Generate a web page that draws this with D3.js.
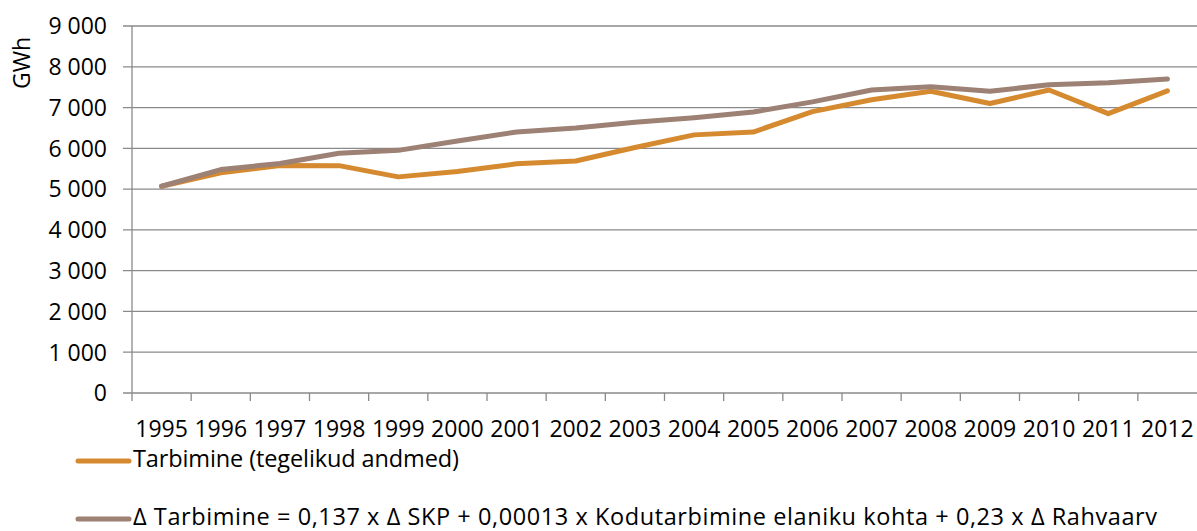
<!DOCTYPE html>
<html>
<head>
<meta charset="utf-8">
<script src="https://cdn.jsdelivr.net/npm/d3@7"></script>
<style>
  html, body { margin: 0; padding: 0; background: #fff; }
  svg { display: block; }
  text { font-family: "Open Sans", "Noto Sans", sans-serif; fill: #000; }
</style>
</head>
<body>
<svg id="chart" width="1197" height="531"></svg>
<script>
// Electricity consumption, GWh
const years = ["1995","1996","1997","1998","1999","2000","2001","2002","2003",
               "2004","2005","2006","2007","2008","2009","2010","2011","2012"];
const actual = [5070, 5400, 5580, 5575, 5300, 5430, 5620, 5690, 6020, 6330,
                6400, 6900, 7190, 7400, 7100, 7430, 6850, 7410];
const modelled = [5070, 5480, 5630, 5880, 5950, 6180, 6400, 6500, 6640, 6750,
                  6890, 7140, 7430, 7510, 7400, 7560, 7610, 7700];
const yTicks = [0, 1000, 2000, 3000, 4000, 5000, 6000, 7000, 8000, 9000];
const seriesNames = [
  "Tarbimine (tegelikud andmed)",
  "\u0394 Tarbimine = 0,137 x \u0394 SKP + 0,00013 x Kodutarbimine elaniku kohta + 0,23 x \u0394 Rahvaarv"
];
const seriesColors = ["#d58a30", "#9c8174"];
const yLabel = "GWh";

const svg = d3.select("#chart");
const plotLeft = 132, plotRight = 1197, plotTop = 26, plotBottom = 393;
const gridColor = "#8a8a8a";
const fontSize = 23;

const x = d3.scaleBand().domain(years).range([plotLeft, plotRight]).padding(0);
const y = d3.scaleLinear().domain([0, 9000]).range([plotBottom, plotTop]);

// horizontal gridlines with outward tick stubs
svg.append("g").selectAll("line").data(yTicks).join("line")
  .attr("x1", plotLeft - 9).attr("x2", plotRight)
  .attr("y1", d => y(d)).attr("y2", d => y(d))
  .attr("stroke", gridColor).attr("stroke-width", 1.3);

// vertical axis line
svg.append("line")
  .attr("x1", plotLeft).attr("x2", plotLeft).attr("y1", plotTop).attr("y2", plotBottom + 8)
  .attr("stroke", gridColor).attr("stroke-width", 1.3);

// category boundary ticks below the axis
svg.append("g").selectAll("line").data(years.slice(1)).join("line")
  .attr("x1", d => x(d)).attr("x2", d => x(d))
  .attr("y1", plotBottom).attr("y2", plotBottom + 8)
  .attr("stroke", gridColor).attr("stroke-width", 1.3);

// y tick labels with a space as thousands separator
const fmt = v => d3.format(",")(v).replace(/,/g, " ");
svg.append("g").selectAll("text").data(yTicks).join("text")
  .attr("x", 107).attr("y", d => y(d)).attr("dy", "0.36em")
  .attr("text-anchor", "end").style("font-size", fontSize + "px")
  .text(fmt);

// x tick labels
svg.append("g").selectAll("text").data(years).join("text")
  .attr("x", d => x(d) + x.bandwidth() / 2).attr("y", 437)
  .attr("text-anchor", "middle").style("font-size", fontSize + "px")
  .text(d => d);

// axis title
svg.append("text")
  .attr("transform", "translate(30,63) rotate(-90)")
  .attr("text-anchor", "middle").style("font-size", fontSize + "px")
  .text(yLabel);

// series lines
const line = d3.line()
  .x((d, i) => x(years[i]) + x.bandwidth() / 2)
  .y(d => y(d));

[actual, modelled].forEach((vals, i) => {
  svg.append("path").datum(vals)
    .attr("d", line)
    .attr("fill", "none")
    .attr("stroke", seriesColors[i])
    .attr("stroke-width", 5)
    .attr("stroke-linejoin", "round")
    .attr("stroke-linecap", "round");
});

// legend
const legendRows = [
  { ly: 461, ty: 467, len: 326 },
  { ly: 519, ty: 525, len: 1024 }
];
seriesNames.forEach((name, i) => {
  const r = legendRows[i];
  svg.append("line")
    .attr("x1", 78).attr("x2", 129).attr("y1", r.ly).attr("y2", r.ly)
    .attr("stroke", seriesColors[i]).attr("stroke-width", 5)
    .attr("stroke-linecap", "round");
  svg.append("text")
    .attr("x", 133).attr("y", r.ty)
    .attr("textLength", r.len).attr("lengthAdjust", "spacing")
    .style("font-size", (fontSize + 0.5) + "px")
    .text(name);
});
</script>
</body>
</html>
